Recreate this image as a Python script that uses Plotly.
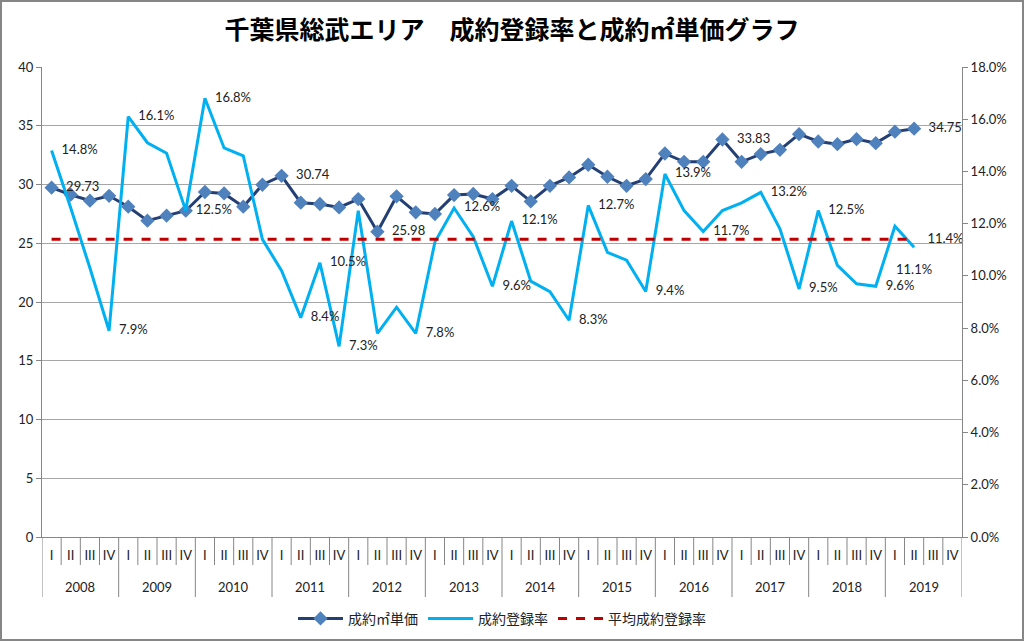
import plotly.graph_objects as go

years = [str(y) for y in range(2008, 2020)]
quarters = ["I", "II", "III", "IV"]

# 成約㎡単価 (万円) per quarter, 2008 I .. 2019 II  (2019 III, IV empty)
price = [29.73, 29.13, 28.62, 29.04, 28.11, 26.92, 27.35, 27.77,
         29.36, 29.24, 28.11, 29.98, 30.74, 28.45, 28.34, 28.05,
         28.76, 25.98, 28.99, 27.63, 27.49, 29.10, 29.19, 28.76,
         29.89, 28.56, 29.89, 30.60, 31.68, 30.66, 29.89, 30.46,
         32.64, 31.93, 31.93, 33.83, 31.93, 32.59, 32.95, 34.28,
         33.66, 33.43, 33.86, 33.52, 34.50, 34.75, None, None]

# 成約登録率 (%)
rate = [14.8, 12.6, 10.3, 7.9, 16.1, 15.1, 14.7, 12.5,
        16.8, 14.9, 14.6, 11.4, 10.2, 8.4, 10.5, 7.3,
        12.5, 7.8, 8.8, 7.8, 11.3, 12.6, 11.5, 9.6,
        12.1, 9.8, 9.4, 8.3, 12.7, 10.9, 10.6, 9.4,
        13.9, 12.5, 11.7, 12.5, 12.8, 13.2, 11.8, 9.5,
        12.5, 10.4, 9.7, 9.6, 11.9, 11.1, None, None]

avg_rate = 11.4

# which points carry data labels
price_labeled = [0, 12, 17, 35, 45]
rate_labeled = [0, 3, 4, 7, 8, 13, 14, 15, 19, 21, 23, 24, 27, 28, 31, 32,
                34, 37, 39, 40, 43, 45]

n_cat = len(years) * len(quarters)
xi = list(range(n_cat))                       # category positions
x_q = [q for _ in years for q in quarters]    # quarter tick labels
n_data = sum(v is not None for v in price)

avg = [avg_rate] * n_data + [None] * (n_cat - n_data)

font_main = "Lato, 'Noto Sans CJK JP', sans-serif"
font_jp = "'Noto Sans CJK JP', sans-serif"

price_text = [("  " + f"{v:.2f}") if (i in price_labeled and v is not None) else ""
              for i, v in enumerate(price)]
rate_text = []
rate_pos = []
for i, v in enumerate(rate):
    if i in rate_labeled and v is not None:
        if i == n_data - 1:
            rate_text.append("<br>" + f"{v:.1f}%")
            rate_pos.append("bottom center")
        else:
            rate_text.append("   " + f"{v:.1f}%")
            rate_pos.append("middle right")
    else:
        rate_text.append("")
        rate_pos.append("middle right")
avg_text = [""] * n_cat
avg_text[n_data - 1] = "    " + f"{avg_rate:.1f}%"

ML, MR, MT, MB = 42, 62, 67, 104
W, H = 1024, 641
pw, ph = W - ML - MR, H - MT - MB

fig = go.Figure()

fig.add_trace(go.Scatter(
    x=xi, y=price, name="成約㎡単価",
    mode="lines+markers+text", text=price_text, textposition="middle right",
    textfont=dict(family=font_main, size=13, color="#222222"),
    line=dict(color="#243F73", width=3),
    marker=dict(symbol="diamond", size=11, color="#4F81BD"),
    cliponaxis=False,
))
fig.add_trace(go.Scatter(
    x=xi, y=rate, name="成約登録率", yaxis="y2",
    mode="lines+text", text=rate_text, textposition=rate_pos,
    textfont=dict(family=font_main, size=13, color="#222222"),
    line=dict(color="#00B0F0", width=3),
    cliponaxis=False,
))
fig.add_trace(go.Scatter(
    x=xi, y=avg, name="平均成約登録率", yaxis="y2",
    mode="lines+text", text=avg_text, textposition="middle right",
    textfont=dict(family=font_main, size=13, color="#222222"),
    line=dict(color="#C00000", width=3, dash="dash"),
    cliponaxis=False,
))

# quarter separators (short) and year separators (long) below the axis
for k in range(1, n_cat):
    if k % 4 != 0:
        fig.add_shape(type="line", xref="x", yref="paper",
                      x0=k - 0.5, x1=k - 0.5, y0=0, y1=-28 / ph,
                      line=dict(color="#868686", width=1))
for k in range(0, n_cat + 1, 4):
    fig.add_shape(type="line", xref="x", yref="paper",
                  x0=k - 0.5, x1=k - 0.5, y0=0, y1=-60 / ph,
                  line=dict(color="#868686", width=1))
# year labels
for j, y in enumerate(years):
    fig.add_annotation(x=j * 4 + 1.5, xref="x", y=-50 / ph, yref="paper",
                       text=y, showarrow=False, yanchor="middle",
                       font=dict(family=font_main, size=13, color="#222222"))

fig.update_layout(
    width=W, height=H,
    margin=dict(l=ML, r=MR, t=MT, b=MB, autoexpand=False),
    paper_bgcolor="white", plot_bgcolor="white",
    title=dict(text="<b>千葉県総武エリア　成約登録率と成約㎡単価グラフ</b>",
               x=0.5, xanchor="center", y=0.953, yanchor="middle",
               font=dict(family=font_jp, size=25, color="#000000")),
    font=dict(family=font_main, size=13, color="#222222"),
    xaxis=dict(range=[-0.5, n_cat - 0.5], autorange=False,
               tickmode="array", tickvals=xi, ticktext=x_q,
               showline=True, linecolor="#868686",
               ticks="", tickangle=0, automargin=False,
               ticklabelstandoff=6,
               tickfont=dict(family=font_main, size=13, color="#222222"),
               showgrid=False, zeroline=False),
    yaxis=dict(range=[0, 40], dtick=5, showgrid=True, gridcolor="#A6A6A6",
               gridwidth=1, showline=True, linecolor="#868686",
               ticks="outside", ticklen=5, tickcolor="#868686",
               zeroline=False, automargin=False,
               tickfont=dict(family=font_main, size=13, color="#222222")),
    yaxis2=dict(range=[0, 18], dtick=2, overlaying="y", side="right",
                showgrid=False, showline=True, linecolor="#868686",
                ticks="outside", ticklen=5, tickcolor="#868686",
                tickformat=".1f", ticksuffix="%", zeroline=False,
                automargin=False,
                tickfont=dict(family=font_main, size=13, color="#222222")),
    legend=dict(orientation="h", x=0.5, xanchor="center", y=-0.14,
                yanchor="top",
                font=dict(family=font_jp, size=14, color="#222222"),
                itemwidth=45, traceorder="normal"),
    showlegend=True,
)

# outer chart border
fig.add_shape(type="rect", xref="paper", yref="paper",
              x0=(1 - ML) / pw, x1=(W - ML - 1) / pw,
              y0=-(MB - 1) / ph, y1=1 + (MT - 1) / ph,
              line=dict(color="#868686", width=2), fillcolor="rgba(0,0,0,0)",
              layer="below")

fig.write_html("out.html", config={"displayModeBar": False},
               post_script="document.body.style.margin='0';")
